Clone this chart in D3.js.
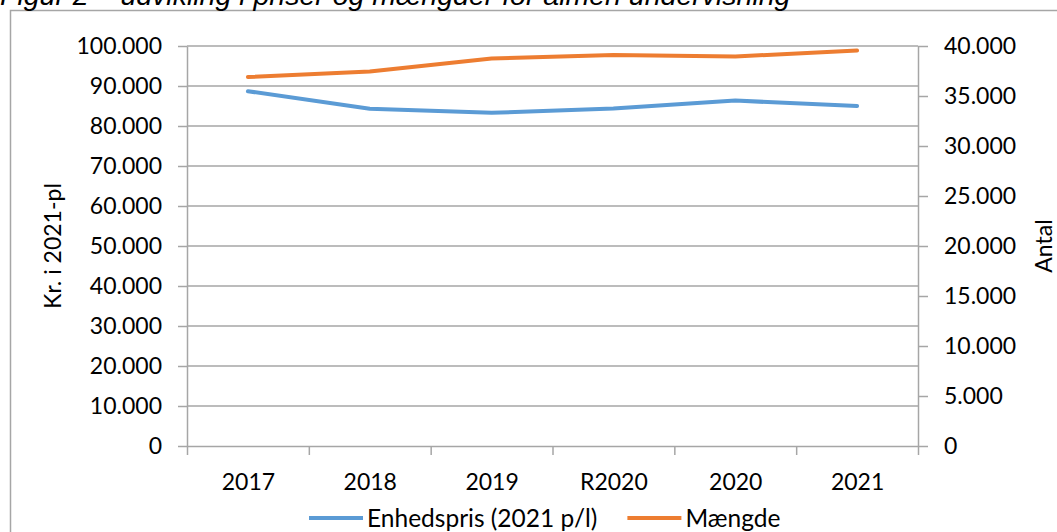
<!DOCTYPE html>
<html>
<head>
<meta charset="utf-8">
<script src="https://cdn.jsdelivr.net/npm/d3@7"></script>
<style>
  body { margin: 0; background: #fff; }
  svg { display: block; }
  .axis text { font-family: Lato, "Open Sans", sans-serif; font-size: 23px; fill: #000; }
  .axis path, .axis line { stroke: #a6a6a6; stroke-width: 1.5; }
  .grid line { stroke: #a6a6a6; stroke-width: 1.5; }
  .lbl { font-family: Lato, "Open Sans", sans-serif; font-size: 23px; fill: #000; }
  .legend text { font-size: 24.5px; }
</style>
</head>
<body>
<div class="chart"></div>
<script>
// data
const years = ["2017", "2018", "2019", "R2020", "2020", "2021"];
const enhedspris = [88700, 84300, 83300, 84400, 86350, 85000];   // left axis, kr.
const maengde = [36900, 37450, 38750, 39100, 38950, 39550];      // right axis, antal
const leftTicks = [0, 10000, 20000, 30000, 40000, 50000, 60000, 70000, 80000, 90000, 100000];
const rightTicks = [0, 5000, 10000, 15000, 20000, 25000, 30000, 35000, 40000];
const seriesNames = ["Enhedspris (2021 p/l)", "Mængde"];
const colors = ["#5b9bd5", "#ed7d31"];

const W = 1057, H = 532;
const margin = {top: 46, right: 139, bottom: 86, left: 187};
const w = W - margin.left - margin.right;
const h = H - margin.top - margin.bottom;

const dk = d3.formatLocale({decimal: ",", thousands: ".", grouping: [3], currency: ["", " kr."]});
const fmt = dk.format(",");

const root = d3.select(".chart").append("svg")
    .attr("width", W)
    .attr("height", H);

// outer chart frame (runs past the picture edge)
root.append("rect")
    .attr("x", 10.5).attr("y", 10.5)
    .attr("width", 1100).attr("height", 600)
    .attr("fill", "none")
    .attr("stroke", "#a6a6a6")
    .attr("stroke-width", 1.5);

// title, clipped by the top edge like in the source
root.append("text")
    .attr("x", 0).attr("y", 5)
    .style("font-family", "'Liberation Sans', Arial, sans-serif")
    .style("font-style", "italic")
    .style("font-size", "28.5px")
    .text("Figur 2 – udvikling i priser og mængder for almen undervisning");

const svg = root.append("g")
    .attr("transform", "translate(" + margin.left + "," + margin.top + ")");

// scales
const xScale = d3.scalePoint().domain(years).range([0, w]).padding(0.5);
const xEdges = d3.scaleLinear().domain([0, years.length]).range([0, w]);
const yLeft = d3.scaleLinear().domain([0, 100000]).range([h, 0]);
const yRight = d3.scaleLinear().domain([0, 40000]).range([h, 0]);

// gridlines
svg.append("g").attr("class", "grid")
    .selectAll("line")
    .data(leftTicks.slice(1))
    .join("line")
    .attr("x1", 0).attr("x2", w)
    .attr("y1", d => yLeft(d)).attr("y2", d => yLeft(d));

// axes
svg.append("g").attr("class", "axis y-left")
    .call(d3.axisLeft(yLeft).tickValues(leftTicks).tickFormat(fmt).tickSize(9).tickPadding(16).tickSizeOuter(0));

svg.append("g").attr("class", "axis y-right")
    .attr("transform", `translate(${w},0)`)
    .call(d3.axisRight(yRight).tickValues(rightTicks).tickFormat(fmt).tickSize(10).tickPadding(16).tickSizeOuter(0));

svg.append("g").attr("class", "axis x-ticks")
    .attr("transform", `translate(0,${h})`)
    .call(d3.axisBottom(xEdges).ticks(years.length).tickFormat("").tickSize(9).tickSizeOuter(0));

svg.append("g").attr("class", "axis x-labels")
    .attr("transform", `translate(0,${h})`)
    .call(d3.axisBottom(xScale).tickSize(0).tickPadding(28))
    .call(g => g.select(".domain").remove());

// lines
const lineL = d3.line().x((d, i) => xScale(years[i])).y(d => yLeft(d));
const lineR = d3.line().x((d, i) => xScale(years[i])).y(d => yRight(d));

svg.append("path")
    .datum(enhedspris)
    .attr("fill", "none")
    .attr("stroke", colors[0])
    .attr("stroke-width", 4)
    .attr("stroke-linejoin", "round")
    .attr("stroke-linecap", "round")
    .attr("d", lineL);

svg.append("path")
    .datum(maengde)
    .attr("fill", "none")
    .attr("stroke", colors[1])
    .attr("stroke-width", 4)
    .attr("stroke-linejoin", "round")
    .attr("stroke-linecap", "round")
    .attr("d", lineR);

// axis titles
root.append("text").attr("class", "lbl")
    .attr("transform", `translate(52,${margin.top + h / 2}) rotate(-90)`)
    .attr("text-anchor", "middle")
    .attr("dominant-baseline", "central")
    .text("Kr. i 2021-pl");

root.append("text").attr("class", "lbl")
    .attr("transform", `translate(1043,${margin.top + h / 2}) rotate(-90)`)
    .attr("text-anchor", "middle")
    .attr("dominant-baseline", "central")
    .text("Antal");

// legend
const legend = root.append("g").attr("class", "legend").attr("transform", "translate(309,518)");
let lx = 0;
seriesNames.forEach((name, i) => {
    const item = legend.append("g").attr("transform", `translate(${lx},0)`);
    item.append("line")
        .attr("x1", 0).attr("x2", 54)
        .attr("stroke", colors[i]).attr("stroke-width", 4);
    const t = item.append("text").attr("class", "lbl")
        .attr("x", 58).attr("y", 8.5)
        .text(name);
    lx += 58 + t.node().getComputedTextLength() + 30;
});
</script>
</body>
</html>
